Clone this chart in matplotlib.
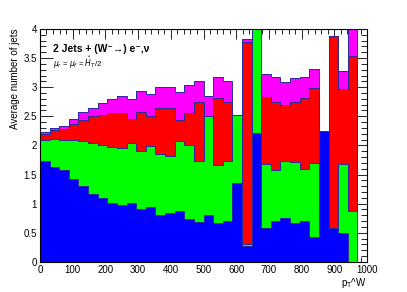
import numpy as np
import matplotlib
matplotlib.use("Agg")
import matplotlib.pyplot as plt
from matplotlib.ticker import MultipleLocator

# ===============================
# DATA (per-component mean jet counts, stacked)
# ===============================
N_BINS = 34
X_MIN, X_MAX = 0, 1000

blue = [1.74, 1.63, 1.58, 1.42, 1.30, 1.16, 1.10, 1.01, 0.97, 1.01, 0.90,
        0.94, 0.81, 0.84, 0.88, 0.73, 0.69, 0.81, 0.66, 0.71, 1.35, 0.27,
        2.21, 0.59, 0.71, 0.75, 0.67, 0.70, 0.42, 2.24, 0.59, 0.49, 0.00, 0.0]
green = [0.36, 0.48, 0.52, 0.68, 0.77, 0.88, 0.91, 0.97, 0.99, 1.04, 1.00,
         1.05, 1.05, 0.98, 1.19, 1.27, 1.05, 1.69, 1.00, 1.03, 1.18, 0.03,
         2.30, 1.09, 0.87, 0.99, 1.04, 0.89, 1.28, 0.00, 0.00, 1.19, 0.88, 0.0]
red = [0.09, 0.15, 0.18, 0.26, 0.36, 0.46, 0.52, 0.57, 0.60, 0.40, 0.67,
       0.51, 0.78, 0.82, 0.36, 0.55, 1.01, 0.00, 1.15, 1.00, 0.00, 3.47,
       0.00, 1.15, 1.16, 0.96, 1.04, 1.22, 1.28, 0.00, 3.28, 1.29, 2.66, 0.0]
magenta = [0.04, 0.04, 0.06, 0.09, 0.14, 0.15, 0.20, 0.24, 0.28, 0.35, 0.36,
           0.38, 0.36, 0.36, 0.48, 0.49, 0.36, 0.34, 0.36, 0.37, 0.00, 0.06,
           0.00, 0.39, 0.43, 0.39, 0.41, 0.36, 0.34, 0.00, 0.00, 0.30, 0.50, 0.0]

layers = [blue, green, red, magenta]
colors = ["#0000ff", "#00ff00", "#ff0000", "#ff00ff"]
LINE_COLOR = "#2b2b9c"

# ===============================
# FIGURE
# ===============================
plt.rcParams["font.family"] = ["Liberation Sans", "DejaVu Sans"]
plt.rcParams["mathtext.fontset"] = "dejavusans"

fig = plt.figure(figsize=(4.07, 2.92), dpi=100)
ax = fig.add_axes([0.098, 0.103, 0.804, 0.798])

edges = np.linspace(X_MIN, X_MAX, N_BINS + 1)
cum = np.cumsum(np.array(layers), axis=0)

# draw top layer first, like a ROOT THStack
for i in range(len(layers) - 1, -1, -1):
    ax.stairs(cum[i], edges, baseline=0, fill=True, color=colors[i], zorder=1)
    ax.stairs(cum[i], edges, baseline=None, color=LINE_COLOR, lw=0.7, zorder=1.1)

ax.set_xlim(X_MIN, X_MAX)
ax.set_ylim(0, 4)

ax.xaxis.set_major_locator(MultipleLocator(100))
ax.xaxis.set_minor_locator(MultipleLocator(20))
ax.yaxis.set_major_locator(MultipleLocator(0.5))
ax.yaxis.set_minor_locator(MultipleLocator(0.1))
ax.yaxis.set_major_formatter(plt.FuncFormatter(lambda v, p: f"{v:g}"))

ax.tick_params(which="both", direction="in", top=True, right=True,
               labelsize=7, width=0.6, pad=2)
ax.tick_params(axis="x", which="major", length=7)
ax.tick_params(axis="x", which="minor", length=3.5)
ax.tick_params(axis="y", which="major", length=9)
ax.tick_params(axis="y", which="minor", length=4.5)
ax.set_axisbelow(True)
for s in ax.spines.values():
    s.set_linewidth(0.8)

ax.set_ylabel("Average number of jets", fontsize=7, loc="top")
ax.yaxis.set_label_coords(-0.062, 1.0)
ax.set_xlabel(r"p$_{\rm T}$^W", fontsize=7, loc="right", labelpad=1)

ax.text(0.04, 0.915, "2 Jets + (W\u207b\u2192) e\u207b,\u03bd", transform=ax.transAxes,
        fontsize=7.5, fontweight="bold", va="center", ha="left")
ax.text(0.04, 0.855, r"$\mu_r$ = $\mu_f$ = $\hat{H}_T$/2", transform=ax.transAxes,
        fontsize=5.5, va="center", ha="left")

fig.savefig("out.png", dpi=100)
